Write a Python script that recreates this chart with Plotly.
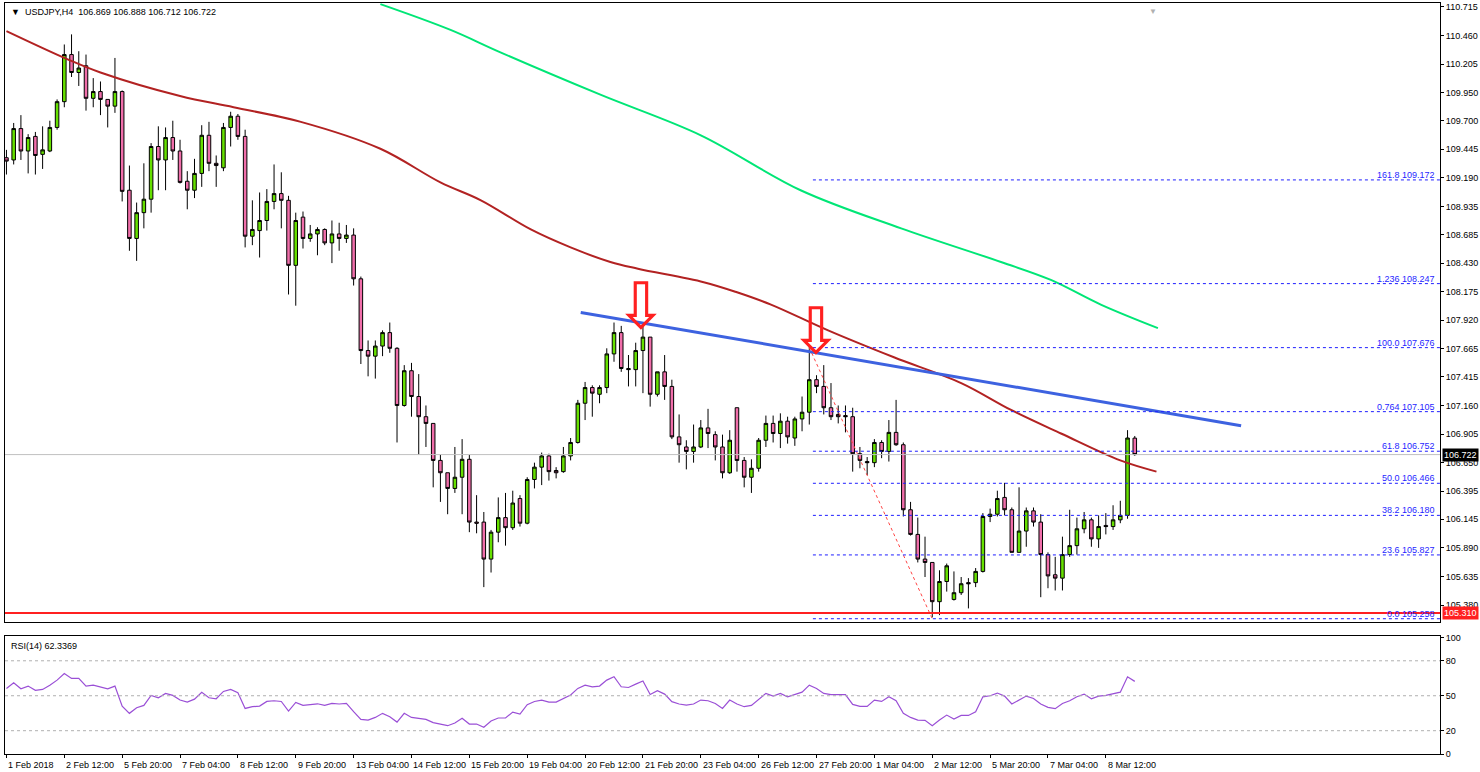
import plotly.graph_objects as go

opens = [109.37,109.35,109.63,109.43,109.56,109.40,109.43,109.64,109.87,110.29,110.13,110.19,109.90,109.96,109.89,109.83,109.96,109.08,108.65,108.88,
 109.00,109.47,109.35,109.55,109.43,109.16,109.08,109.23,109.57,109.32,109.28,109.64,109.74,109.56,108.67,108.72,108.81,108.98,109.05,108.99,
 108.41,108.84,108.65,108.69,108.73,108.61,108.69,108.65,108.68,108.29,107.65,107.60,107.69,107.81,107.67,107.16,107.47,107.24,107.06,107.00,
 106.67,106.56,106.42,106.52,106.68,106.12,106.12,105.79,106.03,106.16,106.07,106.33,106.11,106.50,106.61,106.71,106.58,106.57,106.71,106.83,
 107.18,107.32,107.26,107.32,107.62,107.81,107.49,107.48,107.65,107.77,107.26,107.46,107.33,106.88,106.79,106.75,106.79,106.96,106.90,106.79,
 106.56,107.14,106.67,106.52,106.60,106.85,107.00,106.91,107.02,106.87,107.04,107.10,107.39,107.33,107.14,107.08,107.07,107.06,106.73,106.66,
 106.65,106.83,106.75,106.92,106.81,106.23,106.01,105.79,105.76,105.41,105.59,105.43,105.49,105.58,105.58,105.68,106.17,106.19,106.34,106.23,
 105.85,106.04,106.22,106.12,105.83,105.65,105.62,105.83,105.91,106.06,106.14,105.97,106.09,106.08,106.14,106.18,106.869]
highs = [109.44,109.68,109.75,109.58,109.60,109.65,109.70,109.89,110.38,110.47,110.32,110.29,110.08,110.05,109.89,110.26,109.97,109.30,108.97,109.32,
 109.50,109.65,109.64,109.70,109.53,109.25,109.36,109.66,109.69,109.39,109.68,109.78,109.76,109.62,108.99,109.06,109.09,109.31,109.24,109.03,
 108.88,108.89,108.77,108.75,108.74,108.81,108.79,108.77,108.74,108.31,107.74,107.74,107.83,107.90,107.68,107.52,107.54,107.44,107.16,107.00,
 106.72,106.56,106.79,106.86,106.72,106.36,106.21,106.05,106.34,106.38,106.40,106.36,106.52,106.65,106.74,106.73,106.61,106.79,106.87,107.21,
 107.37,107.34,107.34,107.67,107.90,107.87,107.61,107.72,107.90,107.77,107.46,107.61,107.39,107.08,106.85,106.99,107.03,107.13,106.93,106.90,
 106.94,107.14,106.70,106.68,106.87,107.07,107.07,107.09,107.06,107.06,107.24,107.68,107.43,107.52,107.36,107.16,107.16,107.14,106.79,106.70,
 106.86,106.85,107.03,107.21,106.83,106.30,106.16,105.99,105.76,105.69,105.75,105.68,105.63,105.62,105.71,106.20,106.24,106.40,106.47,106.25,
 106.43,106.25,106.25,106.19,105.85,105.81,105.99,106.23,106.16,106.21,106.16,106.18,106.20,106.27,106.31,106.94,106.888]
lows = [109.22,109.31,109.35,109.23,109.22,109.27,109.42,109.62,109.82,110.09,110.01,109.79,109.82,109.75,109.64,109.77,108.98,108.54,108.45,108.74,
 108.88,109.08,109.08,109.35,109.14,108.91,109.01,109.11,109.25,109.11,109.25,109.47,109.53,108.57,108.59,108.48,108.72,108.91,108.74,108.15,
 108.05,108.56,108.62,108.50,108.59,108.43,108.54,108.61,108.23,107.53,107.42,107.40,107.60,107.63,106.83,107.15,107.06,106.72,106.79,106.43,
 106.30,106.19,106.38,106.19,106.03,106.02,105.54,105.67,105.94,105.91,106.05,106.08,106.10,106.42,106.45,106.49,106.51,106.56,106.67,106.82,
 107.03,107.06,107.18,107.27,107.55,107.46,107.33,107.33,107.27,107.15,107.24,107.21,106.86,106.65,106.59,106.65,106.78,106.78,106.67,106.51,
 106.55,106.57,106.43,106.38,106.57,106.79,106.83,106.78,106.82,106.80,106.93,106.99,107.27,107.08,107.03,107.00,106.92,106.57,106.60,106.54,
 106.61,106.69,106.66,106.80,106.17,106.00,105.76,105.63,105.27,105.29,105.50,105.42,105.47,105.35,105.54,105.67,106.12,106.17,106.18,105.85,
 105.85,105.90,106.08,105.45,105.53,105.51,105.51,105.81,105.83,106.02,105.90,105.89,106.01,106.05,106.11,106.15,106.712]
closes = [109.34,109.63,109.43,109.55,109.39,109.44,109.64,109.87,110.29,110.13,110.17,109.90,109.96,109.89,109.83,109.96,109.07,108.65,108.88,109.00,
 109.47,109.35,109.55,109.43,109.15,109.08,109.23,109.57,109.32,109.30,109.64,109.74,109.56,108.67,108.73,108.81,108.98,109.05,108.99,108.41,
 108.81,108.65,108.69,108.73,108.61,108.69,108.65,108.68,108.29,107.65,107.60,107.69,107.81,107.67,107.16,107.47,107.24,107.06,107.00,106.67,
 106.56,106.42,106.52,106.68,106.12,106.11,105.79,106.03,106.16,106.07,106.29,106.11,106.50,106.61,106.71,106.57,106.56,106.71,106.83,107.18,
 107.32,107.27,107.32,107.62,107.81,107.49,107.48,107.65,107.77,107.26,107.46,107.33,106.88,106.81,106.75,106.79,106.96,106.91,106.79,106.56,
 106.85,106.67,106.52,106.60,106.85,107.00,106.91,107.02,106.88,107.04,107.10,107.39,107.33,107.14,107.06,107.06,107.06,106.73,106.67,106.65,
 106.83,106.75,106.92,106.81,106.23,106.01,105.79,105.76,105.41,105.59,105.73,105.49,105.57,105.57,105.68,106.17,106.19,106.33,106.23,105.85,
 106.04,106.22,106.12,105.83,105.64,105.62,105.83,105.91,106.06,106.14,105.97,106.08,106.08,106.14,106.18,106.87,106.722]

rsi = [56.3,61.1,56.0,58.3,54.6,55.4,59.1,63.4,69.1,64.9,64.9,58.3,59.1,57.7,56.0,58.3,41.1,34.9,39.7,41.7,
 50.3,48.3,52.0,50.3,46.3,44.6,47.1,52.9,48.3,47.4,53.7,55.4,52.6,39.1,40.6,41.1,45.1,45.7,45.1,36.9,
 44.3,41.7,42.3,43.1,41.7,43.4,42.9,43.4,36.3,29.7,29.1,31.4,34.9,32.0,27.4,34.9,31.4,30.3,29.7,26.9,
 25.4,24.3,26.6,30.6,25.7,25.7,22.9,28.3,30.9,30.9,36.0,34.3,42.3,45.1,46.3,44.6,44.6,47.4,50.6,56.3,
 59.1,57.7,58.3,63.4,66.3,57.7,57.1,60.0,62.6,51.1,54.3,51.4,44.9,42.9,42.0,42.9,46.3,45.7,43.4,39.1,
 46.3,42.9,40.6,41.7,46.9,52.0,49.7,52.0,49.1,51.4,53.1,59.1,56.3,52.0,50.9,50.9,50.9,42.6,40.9,40.9,
 46.3,45.1,49.1,45.7,34.9,31.4,29.1,28.9,24.3,29.1,33.4,30.0,33.1,33.1,36.3,49.1,50.0,52.3,49.7,42.9,
 46.3,49.7,47.7,42.9,40.0,38.9,43.4,45.7,49.1,51.4,47.4,49.7,50.3,51.4,53.1,66.3,62.34]

ma_red_bar = [0,8.4,13,24,31.4,40.7,51.7,60,65.6,72.5,78,83.5,87.3,96.4,101,105.7,113.6,122.7,132,138.9,145.8,154,159]
ma_red_val = [110.50,110.25,110.13,109.92,109.82,109.69,109.45,109.15,108.99,108.73,108.57,108.44,108.38,108.26,108.17,108.06,107.83,107.59,107.36,107.12,106.91,106.67,106.57]
ma_green_bar = [51.7,61.4,68.3,82.2,96,109.8,123.7,137.5,144.4,151.3,159.2]
ma_green_val = [110.74,110.51,110.31,109.93,109.57,109.08,108.74,108.44,108.28,108.06,107.85]

trend_bar = [79.4, 170.7]
trend_val = [107.99, 106.98]
diag_bar = [111, 128]
diag_val = [107.676, 105.258]
fib_start = 111.5
fib_pct = ["161.8","1.236","100.0","0.764","61.8","50.0","38.2","23.6","0.0"]
fib_val = [109.172,108.247,107.676,107.105,106.752,106.466,106.180,105.827,105.258]
arrow_bar = [87.8, 111.9]
arrow_val = [108.05, 107.82]
support = 105.310
last_price = 106.722

price_ticks = [110.715,110.460,110.205,109.950,109.700,109.445,109.190,108.935,108.685,108.430,108.175,107.920,107.665,107.415,107.160,106.905,106.650,106.395,106.145,105.890,105.635,105.380,105.130]
date_labels = ["1 Feb 2018","2 Feb 12:00","5 Feb 20:00","7 Feb 04:00","8 Feb 12:00","9 Feb 20:00","13 Feb 04:00","14 Feb 12:00","15 Feb 20:00","19 Feb 04:00",
 "20 Feb 12:00","21 Feb 20:00","23 Feb 04:00","26 Feb 12:00","27 Feb 20:00","1 Mar 04:00","2 Mar 12:00","5 Mar 20:00","7 Mar 04:00","8 Mar 12:00"]
date_bars = [8*i for i in range(len(date_labels))]

bars = list(range(len(closes)))
F = "Liberation Sans"
XR = [-0.2, 198.2]
FIBC = "#1f1fff"

fig = go.Figure()
fig.add_trace(go.Scatter(x=ma_green_bar, y=ma_green_val, mode="lines", line=dict(color="#00e676", width=2, shape="spline"), xaxis="x", yaxis="y", hoverinfo="skip"))
fig.add_trace(go.Scatter(x=ma_red_bar, y=ma_red_val, mode="lines", line=dict(color="#b22222", width=2, shape="spline"), xaxis="x", yaxis="y", hoverinfo="skip"))
fig.add_trace(go.Candlestick(x=bars, open=opens, high=highs, low=lows, close=closes,
    increasing=dict(line=dict(color="black", width=1), fillcolor="#66e000"),
    decreasing=dict(line=dict(color="black", width=1), fillcolor="#f06eaa"),
    whiskerwidth=0, xaxis="x", yaxis="y"))
fig.add_trace(go.Scatter(x=trend_bar, y=trend_val, mode="lines", line=dict(color="#3d62e0", width=3), xaxis="x", yaxis="y"))
fig.add_trace(go.Scatter(x=diag_bar, y=diag_val, mode="lines", line=dict(color="#ff4444", width=1, dash="dot"), xaxis="x", yaxis="y"))
fig.add_trace(go.Scatter(x=bars, y=rsi, mode="lines", line=dict(color="#9a4fd6", width=1.2), xaxis="x2", yaxis="y2"))

shapes = []
for v in fib_val:
    shapes.append(dict(type="line", xref="x", yref="y", x0=fib_start, x1=XR[1], y0=v, y1=v, line=dict(color=FIBC, width=1, dash="3px,3px")))
shapes.append(dict(type="line", xref="paper", yref="y", x0=0, x1=1, y0=last_price, y1=last_price, line=dict(color="#c0c0c0", width=1)))
shapes.append(dict(type="line", xref="paper", yref="y", x0=0, x1=1, y0=support, y1=support, line=dict(color="#ff2020", width=2)))
for lv in [80, 50, 20]:
    shapes.append(dict(type="line", xref="paper", yref="y2", x0=0, x1=1, y0=lv, y1=lv, line=dict(color="#b0b0b0", width=1, dash="dot")))
fig.update_layout(shapes=shapes)

ann = []
for p, v in zip(fib_pct, fib_val):
    ann.append(dict(xref="paper", yref="y", x=0.998, y=v, text=f"{p} {v:.3f}", showarrow=False, xanchor="right", yanchor="bottom",
                    font=dict(family=F, size=9, color=FIBC), yshift=-2))
for b, v in zip(arrow_bar, arrow_val):
    ann.append(dict(xref="x", yref="y", x=b, y=v, text="⇩", showarrow=False, font=dict(family="DejaVu Sans", size=64, color="#ff2020")))
for lab, b in zip(date_labels, date_bars):
    ann.append(dict(xref="x2", yref="paper", x=b, y=0, yshift=-4, text=lab, showarrow=False, xanchor="left", yanchor="top",
                    font=dict(family=F, size=9, color="black")))
ann.append(dict(xref="paper", yref="y", x=1, y=last_price, text="106.722", showarrow=False, xanchor="left", bgcolor="black",
                font=dict(family=F, size=9, color="white"), xshift=2))
ann.append(dict(xref="paper", yref="y", x=1, y=support, text="105.310", showarrow=False, xanchor="left", bgcolor="#ff2020",
                font=dict(family=F, size=9, color="white"), xshift=2))
ann.append(dict(xref="paper", yref="paper", x=0.003, y=1, yshift=-2, text="▼  USDJPY,H4  106.869 106.888 106.712 106.722", showarrow=False,
                xanchor="left", yanchor="top", font=dict(family=F, size=9, color="black")))
ann.append(dict(xref="paper", yref="paper", x=0.003, y=0.157, yshift=-3, text="RSI(14) 62.3369", showarrow=False,
                xanchor="left", yanchor="top", font=dict(family=F, size=9, color="black")))
ann.append(dict(xref="x", yref="paper", x=158.5, y=1, text="▼", showarrow=False, yanchor="top", font=dict(size=8, color="#b0b0b0")))

fig.update_layout(
    annotations=ann,
    width=1480, height=772, margin=dict(l=5, r=40, t=3, b=18, autoexpand=False),
    paper_bgcolor="white", plot_bgcolor="white", showlegend=False,
    xaxis=dict(range=XR, domain=[0, 1], anchor="y", showticklabels=False, showgrid=False, zeroline=False,
               showline=True, mirror=True, linecolor="black", rangeslider=dict(visible=False), ticks=""),
    yaxis=dict(range=[105.229, 110.75], domain=[0.1758, 1], side="right", tickvals=price_ticks,
               ticktext=[f"{t:.3f}" for t in price_ticks], showgrid=False, zeroline=False, showline=True, mirror=True,
               linecolor="black", ticks="outside", ticklen=3, tickcolor="black", tickfont=dict(family=F, size=9, color="black")),
    xaxis2=dict(range=XR, domain=[0, 1], anchor="y2", matches="x", tickvals=date_bars, ticktext=[""]*len(date_bars),
                ticks="outside", ticklen=3, tickcolor="black", showgrid=False, zeroline=False, showline=True, mirror=True, linecolor="black"),
    yaxis2=dict(range=[0, 101.2], domain=[0, 0.157], side="right", anchor="x2", tickvals=[0, 20, 50, 80, 100],
                showgrid=False, zeroline=False, showline=True, mirror=True, linecolor="black", ticks="outside", ticklen=3,
                tickcolor="black", tickfont=dict(family=F, size=9, color="black")),
)
fig.write_html("out.html", config={"displayModeBar": False},
               post_script="document.body.style.margin='0';document.body.style.overflow='hidden';")
